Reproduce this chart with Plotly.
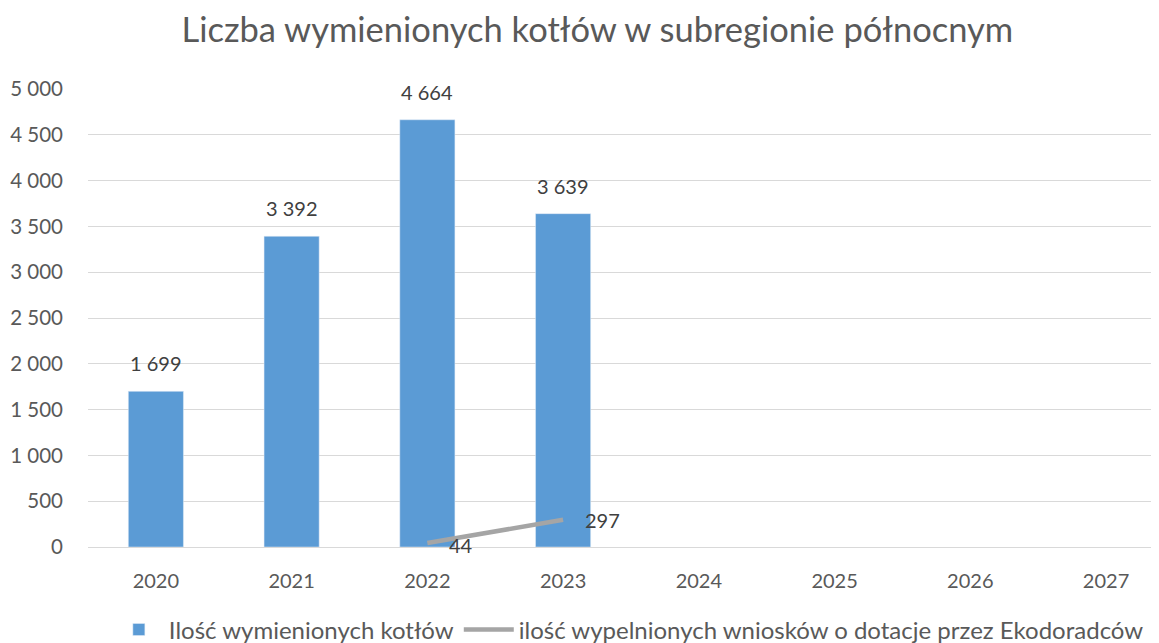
import plotly.graph_objects as go

years = ["2020", "2021", "2022", "2023", "2024", "2025", "2026", "2027"]
kotly = [1699, 3392, 4664, 3639, None, None, None, None]
wnioski = [None, None, 44, 297, None, None, None, None]

font = "Lato, 'Open Sans', sans-serif"
grey = "#595959"
label_grey = "#404040"


def fmt(v):
    return f"{v:,}".replace(",", " ")


fig = go.Figure()

fig.add_trace(go.Bar(
    x=years, y=kotly,
    name="Ilość wymienionych kotłów",
    marker_color="#5B9BD5",
))

fig.add_trace(go.Scatter(
    x=years, y=wnioski,
    name="ilość wypelnionych wniosków o dotacje przez Ekodoradców",
    mode="lines",
    line=dict(color="#A5A5A5", width=4.5),
))

# data labels (x given as category index, numeric-looking names would be read as indices)
for i, v in enumerate(kotly):
    if v is not None:
        fig.add_annotation(x=i, y=v, text=fmt(v), showarrow=False,
                           yanchor="bottom", yshift=14,
                           font=dict(size=20, color=label_grey, family=font))

for i, v in enumerate(wnioski):
    if v is not None:
        first = i == 2
        fig.add_annotation(x=i, y=v, text=fmt(v), showarrow=False,
                           xanchor="left", xshift=20,
                           yshift=-2 if first else 0,
                           font=dict(size=20, color=label_grey, family=font))

# page body has an 8px margin, so the figure is 8px smaller than the window
# the original chart is clipped on the right, hence the shortened x range
fig.update_layout(
    title=dict(text="Liczba wymienionych kotłów w subregionie północnym",
               x=0.512, xanchor="center", y=0.9654, yanchor="middle",
               font=dict(size=34.5, color=grey, family=font)),
    width=1151, height=635,
    margin=dict(l=80, r=0, t=81, b=96, autoexpand=False),
    plot_bgcolor="white", paper_bgcolor="white",
    font=dict(family=font, color=grey, size=20),
    separators=", ",
    bargap=0.594,
    showlegend=True,
    legend=dict(orientation="h", x=0.505, xanchor="center", y=-0.181, yanchor="middle",
                font=dict(size=24, color=grey), itemwidth=50),
    xaxis=dict(type="category", range=[-0.5, len(years) - 0.61],
               showgrid=False, showline=True, linecolor="#D9D9D9",
               linewidth=1, ticks="", tickfont=dict(size=20, color=grey),
               ticklabelstandoff=16, automargin=False),
    yaxis=dict(range=[0, 5000], dtick=500, tickformat=",d", showgrid=True,
               gridcolor="#D9D9D9", gridwidth=1, zeroline=False,
               tickfont=dict(size=20.5, color=grey), ticklabelstandoff=24,
               automargin=False),
)

fig.write_html("out.html")
